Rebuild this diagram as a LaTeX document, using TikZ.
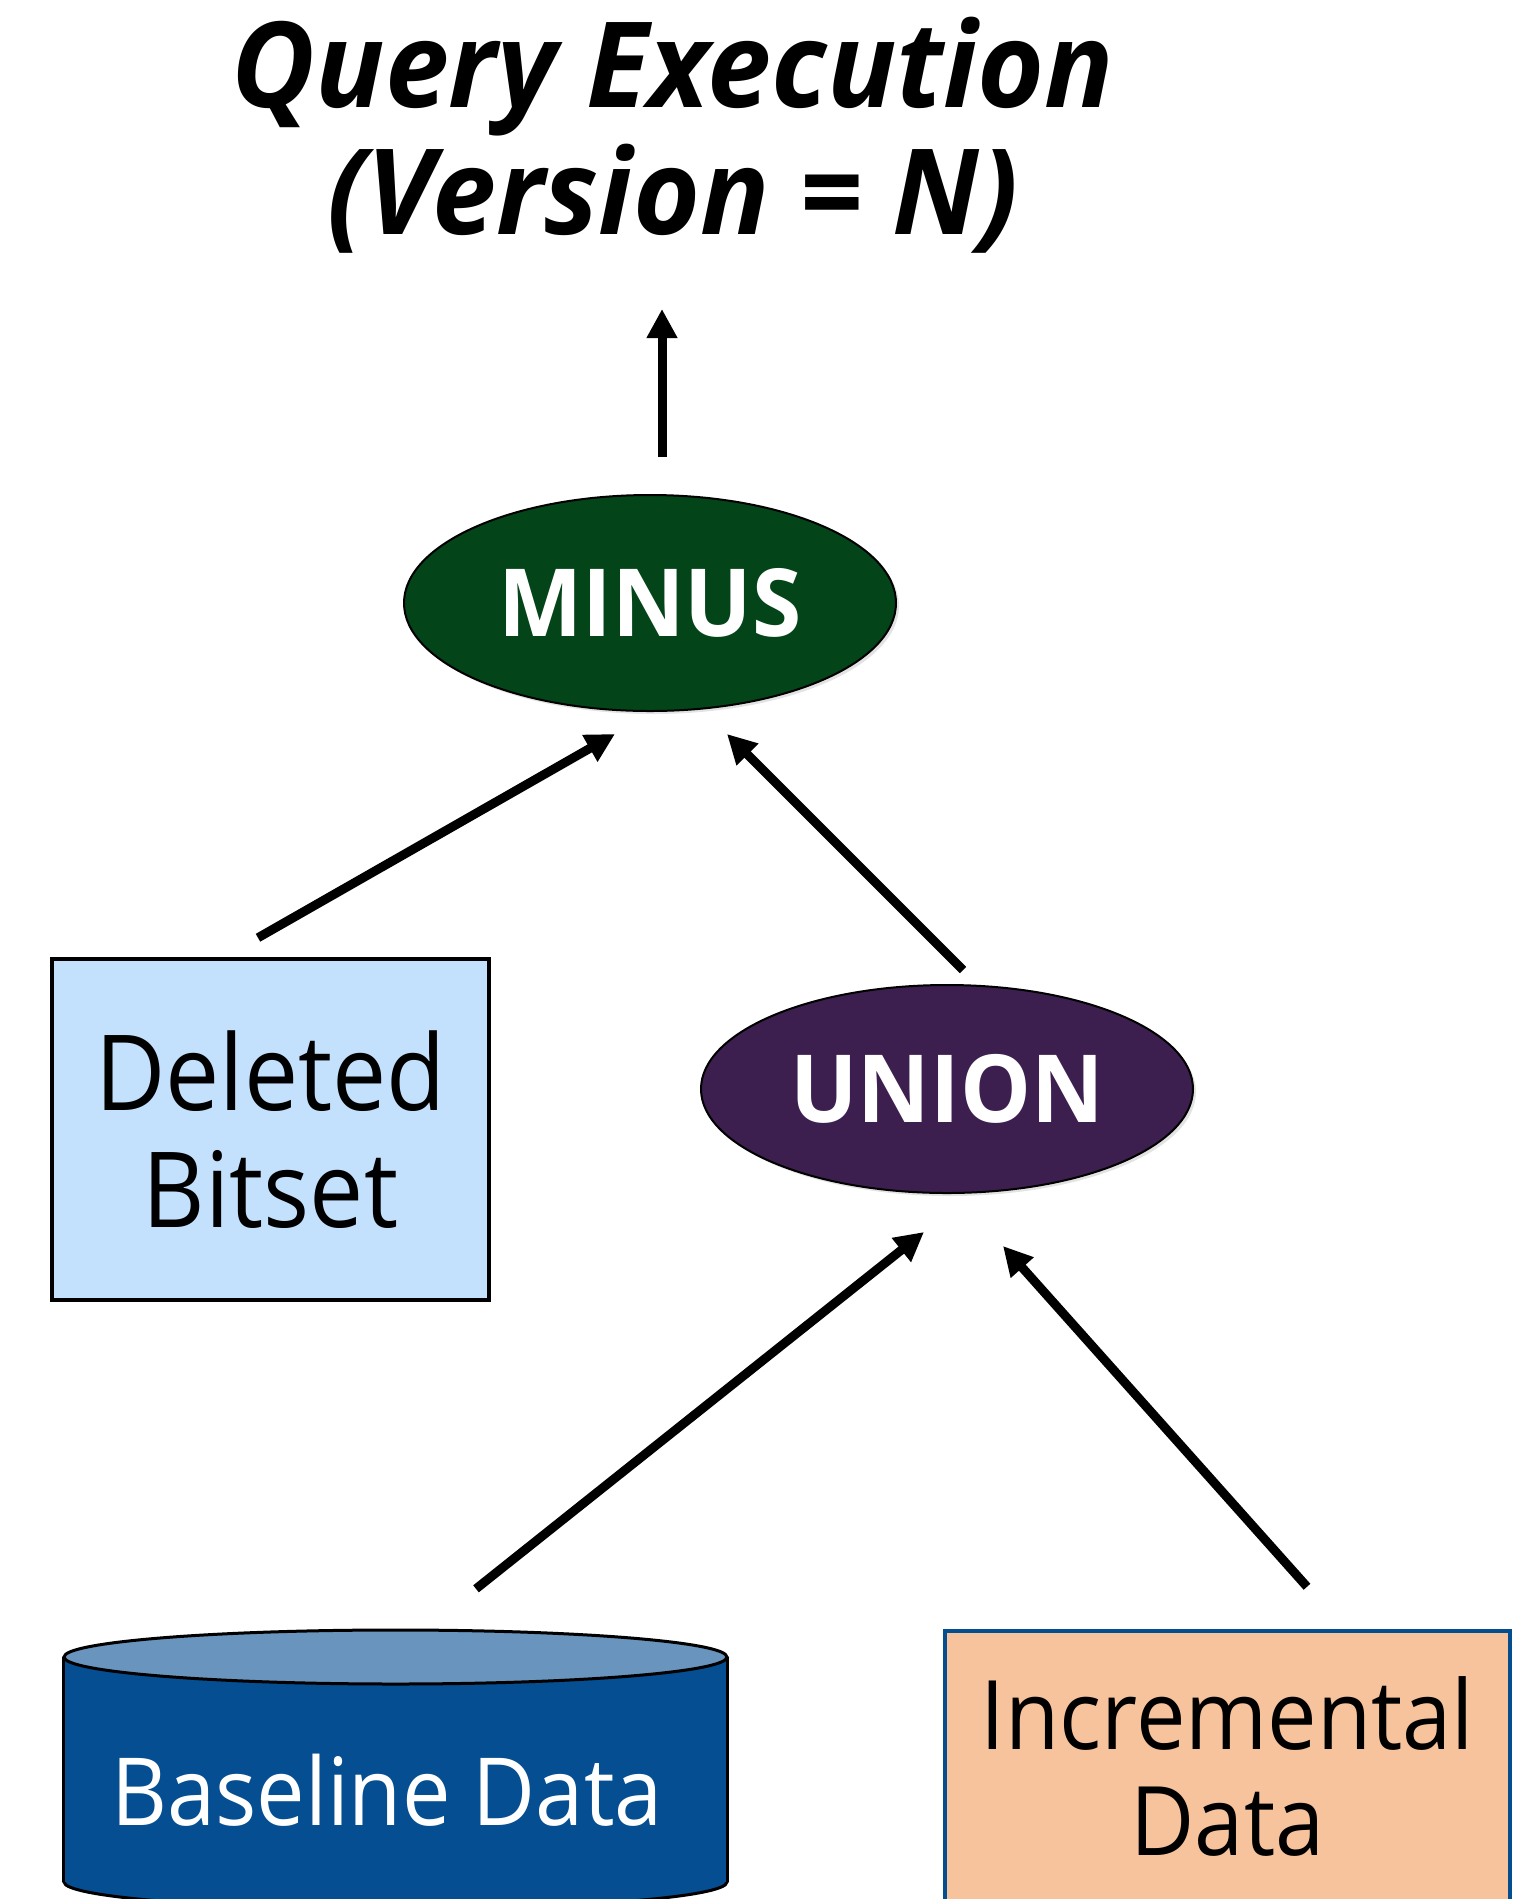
\documentclass[tikz,border=0pt]{standalone}
\usepackage{fontspec}
\setmainfont{Open Sans}
\newfontfamily\headfont{Open Sans}[FakeStretch=0.965]
\newfontfamily\opfont{Open Sans}[FakeStretch=0.95]
\newfontfamily\labelfont{Open Sans}[FakeStretch=0.92]
\usetikzlibrary{arrows.meta,calc,shapes.geometric,shadows}

\definecolor{minusfill}{HTML}{034519}
\definecolor{unionfill}{HTML}{3C1F4E}
\definecolor{bitsetfill}{HTML}{C3E1FC}
\definecolor{basebody}{HTML}{044E91}
\definecolor{basecap}{HTML}{6894BE}
\definecolor{incrfill}{HTML}{F7C39D}
\definecolor{incrline}{HTML}{034E8F}

\tikzset{
  opnode/.style={ellipse, draw=black, line width=2pt, inner sep=0pt,
    minimum width=492pt, minimum height=216pt, text=white,
    font=\opfont\fontsize{94}{100}\selectfont\bfseries,
    drop shadow={opacity=0.22, shadow xshift=3pt, shadow yshift=-3pt}},
  databox/.style={rectangle, line width=4.5pt, inner sep=0pt, align=center,
    font=\labelfont\fontsize{96}{106}\selectfont},
  titletext/.style={anchor=base, inner sep=0pt,
    font=\headfont\fontsize{119}{127}\selectfont\bfseries\itshape},
  flow/.style={line width=9pt, -{Triangle[length=29pt,width=29pt]}},
}

\begin{document}
\begin{tikzpicture}[x=1pt,y=-1pt]
\useasboundingbox (0,0) rectangle (1527,1899);
\clip (0,0) rectangle (1527,1899);

% title
\node[titletext] (title1) at (673,107) {Query Execution};
\node[titletext] (title2) at (673,234) {(Version = N)};
\coordinate (result) at (662,309);

% operators
\node[opnode, fill=minusfill] (minus) at (650,603) {MINUS};
\node[opnode, fill=unionfill, minimum height=208pt] (union) at (947,1089) {UNION};

% deleted bitset
\node[databox, draw=black, fill=bitsetfill, minimum width=437pt, minimum height=341pt,
      font=\labelfont\fontsize{105}{117}\selectfont] (bitset) at (270.5,1129.5) {Deleted\\Bitset};

% baseline data cylinder
\node[minimum width=663pt, minimum height=278pt, inner sep=0pt] (base) at (395.5,1769) {};
\fill[basebody] (base.west |- 0,1657) rectangle (base.east |- 0,1882);
\fill[basebody] (395.5,1882) ellipse [x radius=331.5pt, y radius=27pt];
\draw[line width=3pt] (base.west |- 0,1657) -- (base.west |- 0,1882);
\draw[line width=3pt] (base.east |- 0,1657) -- (base.east |- 0,1882);
\begin{scope}
  \clip (0,1882) rectangle (1527,1950);
  \draw[line width=3pt] (395.5,1882) ellipse [x radius=331.5pt, y radius=27pt];
\end{scope}
\draw[line width=3pt, fill=basecap] (395.5,1657) ellipse [x radius=331.5pt, y radius=27pt];
\node[text=white, font=\labelfont\fontsize{94}{100}\selectfont, inner sep=0pt] (baselabel) at (387,1790) {Baseline Data};

% incremental data
\node[databox, draw=incrline, fill=incrfill, minimum width=565pt, minimum height=270pt]
      (incr) at (1227.5,1766) {Incremental\\Data};

% data flow
\draw[flow] ($(minus.north)+(12,-37)$) -- (result);
\draw[flow] ($(bitset.north)+(-12.5,-19)$) -- ($(minus.south)+(-35,22)$);
\draw[flow] ($(union.north)+(16,-14)$) -- ($(minus.south)+(77,22)$);
\draw[flow] ($(base.north)+(80.5,-41)$) -- ($(union.south)+(-23,38)$);
\draw[flow] ($(incr.north)+(79.5,-42)$) -- ($(union.south)+(56,52)$);
\end{tikzpicture}
\end{document}
